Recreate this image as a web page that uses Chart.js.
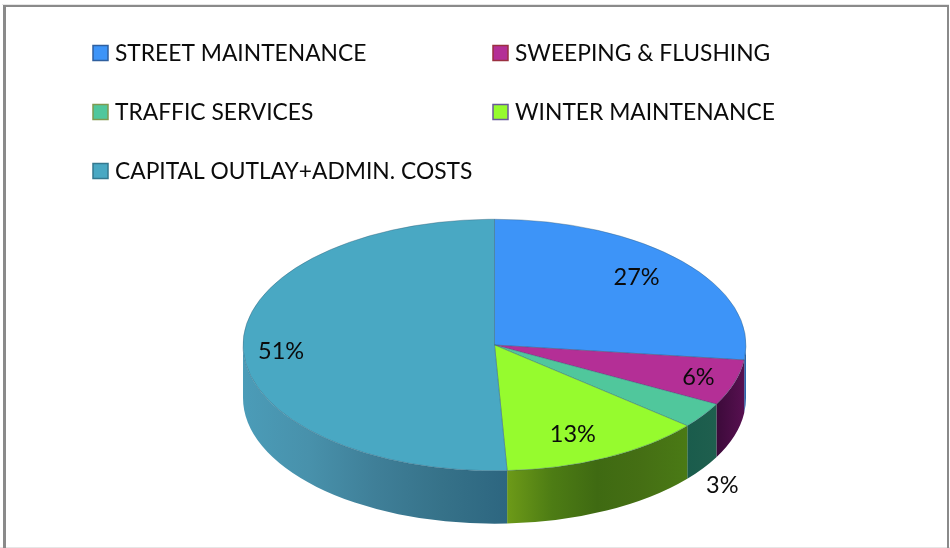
<!DOCTYPE html>
<html>
<head>
<meta charset="utf-8">
<style>
html,body{margin:0;padding:0;background:#fff;}
#wrap{position:absolute;left:0;top:0;width:950px;height:548px;}
</style>
<script src="https://cdn.jsdelivr.net/npm/chart.js@4/dist/chart.umd.min.js"></script>
</head>
<body>
<div id="wrap"><canvas id="c" width="950" height="548"></canvas></div>
<script>
const categories = ['STREET MAINTENANCE','SWEEPING & FLUSHING','TRAFFIC SERVICES','WINTER MAINTENANCE','CAPITAL OUTLAY+ADMIN. COSTS'];
const sharePercent = [26.9, 5.9, 3.3, 13.1, 50.8];
const topColors = ['#3d94f8','#b42f96','#50c79c','#96fb2e','#49a8c3'];
const legendEdges = ['#2f5f9e','#9a3040','#7f9a50','#6a5a9a','#34788f'];
const wallStops = [
  ['#2a66ac','#2a66ac'],
  ['#3c0a3a','#571050'],
  ['#1a5c4c','#1f5f4e'],
  ['#6d9a18','#4d7c14','#3f6a12','#456f14','#4a7a15'],
  ['#4b9cb8','#4891ab','#3f7f98','#367289','#2d6680']
];

const LEGEND_FONT = '22.8px Lato';
const LABEL_FONT = '23.5px Lato';
const view = {cx:494.5, cy:345, squash:0.5, depth:53};
const legendLayout = {
  boxX:[93,493], textX:[115,515], rowY:[54,113,172], box:15,
  slots:[[0,0],[1,0],[0,1],[1,1],[0,2]]
};
const boxRowY = [53,112,171];
const labelPlace = {radial:[0.78,0.85,1.44,0.78,0.85], turn:[-2,0,17,2.9,-1.9]};

function toScreen(angle, r){
  return {x: view.cx + Math.cos(angle)*r, y: view.cy + Math.sin(angle)*r*view.squash};
}

const pie3d = {
  id:'pie3d',
  beforeDraw(chart){
    const ctx = chart.ctx;
    ctx.save();
    ctx.fillStyle = '#fff';
    ctx.fillRect(0,0,chart.width,chart.height);
    ctx.fillStyle = '#e6e6e6';
    ctx.fillRect(2,4,947,1);
    ctx.fillRect(0,547,950,1);
    ctx.fillStyle = '#8a8a8a';
    ctx.fillRect(3,5,946,2);
    ctx.fillRect(3,5,3,543);
    ctx.fillRect(947,5,2,543);
    ctx.restore();
  },
  beforeDatasetsDraw(chart){
    const ctx = chart.ctx;
    const arcs = chart.getDatasetMeta(0).data;
    arcs.forEach((arc,i)=>{
      const a0 = Math.max(arc.startAngle, 0);
      const a1 = Math.min(arc.endAngle, Math.PI);
      if(a1 <= a0) return;
      const r = arc.outerRadius;
      const p0 = toScreen(a0,r), p1 = toScreen(a1,r);
      ctx.save();
      ctx.beginPath();
      ctx.ellipse(view.cx, view.cy, r, r*view.squash, 0, a0, a1, false);
      ctx.lineTo(p1.x, p1.y + view.depth);
      ctx.ellipse(view.cx, view.cy+view.depth, r, r*view.squash, 0, a1, a0, true);
      ctx.closePath();
      const g = ctx.createLinearGradient(Math.min(p0.x,p1.x),0,Math.max(p0.x,p1.x),0);
      const stops = wallStops[i];
      stops.forEach((c,k)=>g.addColorStop(k/(stops.length-1), c));
      ctx.fillStyle = g;
      ctx.fill();
      ctx.restore();
    });
    ctx.save();
    ctx.translate(view.cx, view.cy);
    ctx.scale(1, view.squash);
    ctx.translate(-arcs[0].x, -arcs[0].y);
  },
  afterDatasetsDraw(chart){
    chart.ctx.restore();
  },
  afterDraw(chart){
    const ctx = chart.ctx;
    const arcs = chart.getDatasetMeta(0).data;
    const values = chart.data.datasets[0].data;
    ctx.save();
    ctx.textBaseline = 'middle';
    ctx.textAlign = 'left';
    ctx.font = LEGEND_FONT;
    chart.data.labels.forEach((name,i)=>{
      const [col,row] = legendLayout.slots[i];
      const bx = legendLayout.boxX[col], y = legendLayout.rowY[row], s = legendLayout.box;
      const by = boxRowY[row];
      ctx.fillStyle = topColors[i];
      ctx.fillRect(bx,by-s/2,s,s);
      ctx.strokeStyle = legendEdges[i];
      ctx.lineWidth = 1.5;
      ctx.strokeRect(bx,by-s/2,s,s);
      ctx.fillStyle = '#0b0b0b';
      ctx.fillText(name, legendLayout.textX[col], y);
    });
    ctx.textAlign = 'center';
    ctx.font = LABEL_FONT;
    arcs.forEach((arc,i)=>{
      const mid = (arc.startAngle+arc.endAngle)/2 + labelPlace.turn[i]*Math.PI/180;
      const p = toScreen(mid, arc.outerRadius*labelPlace.radial[i]);
      ctx.fillStyle = '#0b0b0b';
      ctx.fillText(Math.round(values[i])+'%', p.x, p.y);
    });
    ctx.restore();
  }
};

new Chart(document.getElementById('c'),{
  type:'pie',
  data:{
    labels:categories,
    datasets:[{
      data:sharePercent,
      backgroundColor:topColors,
      borderColor:'rgba(50,90,115,0.5)',
      borderWidth:1
    }]
  },
  options:{
    responsive:false,
    animation:false,
    layout:{padding:{left:243,right:203,top:22,bottom:22}},
    plugins:{legend:{display:false},tooltip:{enabled:false},title:{display:false}}
  },
  plugins:[pie3d]
});
</script>
</body>
</html>
